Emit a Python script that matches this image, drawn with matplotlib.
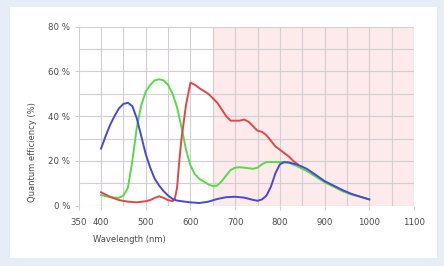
import numpy as np
import matplotlib
matplotlib.use('Agg')
import matplotlib.pyplot as plt
from matplotlib.patches import Rectangle

# data (wavelength nm, QE %)
blue_wl = [400, 410, 420, 430, 440, 450, 460, 470, 480, 490, 500, 510, 520, 530,
           540, 550, 560, 570, 580, 600, 620, 640, 660, 680, 700, 720, 740, 750,
           760, 770, 780, 790, 800, 810, 820, 840, 860, 880, 900, 920, 940, 960,
           980, 1000]
blue_qe = [25.5, 31, 36, 40, 43.5, 45.5, 46, 44.5, 39, 31, 23, 17, 12, 9,
           6.5, 4.5, 3, 2.3, 2, 1.5, 1.2, 1.8, 3, 3.8, 4, 3.6, 2.6, 2.2,
           2.8, 4.5, 8.5, 14.5, 18.5, 19.5, 19.3, 18.3, 16.5, 13.8, 11, 9, 7, 5.3,
           4, 2.8]

green_wl = [400, 420, 440, 450, 460, 470, 480, 490, 500, 510, 520, 530, 540, 550,
            560, 570, 580, 590, 600, 610, 620, 640, 650, 660, 670, 680, 690, 700,
            710, 720, 740, 750, 760, 770, 800, 820, 840, 860, 880, 900, 920, 940,
            960, 980, 1000]
green_qe = [4.8, 3.8, 3.5, 4.5, 8, 20, 35, 45, 51, 54, 56, 56.5, 56, 54,
            50, 44, 35, 25, 18, 14, 12, 9.5, 8.8, 9, 11, 13.5, 16, 17,
            17.2, 17, 16.5, 17, 18.5, 19.5, 19.5, 19.3, 17.5, 15.5, 13, 10.5, 8.5, 6.5,
            5, 4, 2.8]

red_wl = [400, 420, 440, 460, 480, 500, 510, 520, 530, 540, 550, 560, 565, 570,
          575, 580, 590, 600, 610, 620, 640, 650, 660, 670, 680, 690, 700, 710,
          720, 730, 740, 750, 760, 770, 780, 790, 800, 810, 820, 830, 840]
red_qe = [6, 4, 2.5, 1.8, 1.5, 2, 2.5, 3.5, 4.2, 3.5, 2.5, 2, 3, 8,
          20, 30, 45, 55, 54, 52.5, 50, 48, 46, 43, 40, 38, 38, 38,
          38.5, 37.5, 35.5, 33.5, 33, 31.5, 29, 26.5, 25, 23.5, 22, 20, 18.5]

x_ticks = [350, 400, 500, 600, 700, 800, 900, 1000, 1100]
y_ticks = [0, 20, 40, 60, 80]

W, H = 444, 266
fig = plt.figure(figsize=(W / 100, H / 100), dpi=100)
fig.patch.set_facecolor('#e6edf7')
# white card
fig.patches.append(Rectangle((10 / W, 1 - 258 / H), 427 / W, 251 / H,
                             transform=fig.transFigure, facecolor='white',
                             edgecolor='none', zorder=-10))

ax = fig.add_axes([78.7 / W, 1 - 205.7 / H, 335.3 / W, 179 / H])
ax.set_facecolor('none')
ax.set_xlim(350, 1100)
ax.set_ylim(0, 80)

ax.axvspan(650, 1100, color='#fdeaea', zorder=0, lw=0)

grid_c = '#d2ced4'
for x in np.arange(350, 1101, 50):
    ax.axvline(x, color=grid_c, lw=0.8, zorder=1)
for y in np.arange(0, 81, 10):
    ax.axhline(y, color=grid_c, lw=0.8, zorder=1)

for s in ax.spines.values():
    s.set_visible(False)

ax.plot(green_wl, green_qe, color='#5ad84a', lw=1.4, zorder=3)
ax.plot(red_wl, red_qe, color='#e04848', lw=1.4, zorder=3)
ax.plot(blue_wl, blue_qe, color='#4848d8', lw=1.4, zorder=4)

ax.set_xticks(x_ticks)
ax.set_xticklabels([str(v) for v in x_ticks])
ax.set_yticks(y_ticks)
ax.set_yticklabels(['%d %%' % v for v in y_ticks])
ax.tick_params(colors=grid_c, labelcolor='#4a4a4a', labelsize=6.2, length=3,
               width=0.8, pad=3)
ax.tick_params(axis='x', pad=6)

fig.text(93 / W, 1 - 240 / H, 'Wavelength (nm)', fontsize=6, color='#4a4a4a',
         ha='left', va='center')
fig.text(32 / W, 1 - 152 / H, 'Quantum efficiency (%)', fontsize=6,
         color='#4a4a4a', rotation=90, ha='center', va='center')

fig.savefig('out.png', dpi=100, facecolor=fig.get_facecolor())
